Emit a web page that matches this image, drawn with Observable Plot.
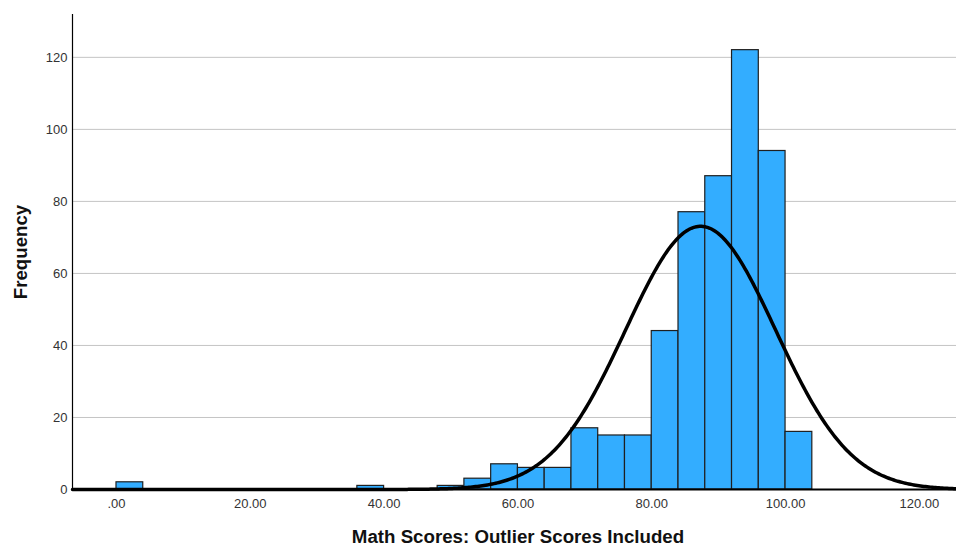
<!DOCTYPE html>
<html><head><meta charset="utf-8">
<script src="https://cdn.jsdelivr.net/npm/d3@7"></script>
<script src="https://cdn.jsdelivr.net/npm/@observablehq/plot@0.6"></script>
<style>
body{margin:0;background:#fff;}
#chart{width:956px;height:548px;}
</style>
</head><body><div id="chart"></div>
<script>
// Histogram bins (lower edge) and frequencies
const binStart = [0, 36, 48, 52, 56, 60, 64, 68, 72, 76, 80, 84, 88, 92, 96, 100];
const counts   = [2, 1, 1, 3, 7, 6, 6, 17, 15, 15, 44, 77, 87, 122, 94, 16];
const binWidth = 4;
// Fitted normal curve parameters
const curveMean = 87.3;
const curveSD = 11.2;
const xTicks = [0, 20, 40, 60, 80, 100, 120];
const yTicks = [0, 20, 40, 60, 80, 100, 120];
const xTitle = "Math Scores: Outlier Scores Included";
const yTitle = "Frequency";

const bins = binStart.map((s, i) => ({x1: s, x2: s + binWidth, y: counts[i]}));
const N = d3.sum(counts);
const xDomain = [-6.575, 125.55];
const curve = d3.range(xDomain[0], xDomain[1] + 0.01, 0.25).map(x => ({
  x, y: N * binWidth / (curveSD * Math.sqrt(2 * Math.PI)) * Math.exp(-0.5 * ((x - curveMean) / curveSD) ** 2)
}));

const fmtX = v => d3.format(".2f")(v).replace(/^0\./, ".");

const plot = Plot.plot({
  width: 956, height: 548,
  marginLeft: 72, marginRight: 0, marginTop: 14, marginBottom: 59,
  style: {fontFamily: "'Liberation Sans', Arial, sans-serif", fontSize: "13px", color: "#333", background: "#fff"},
  x: {domain: xDomain, ticks: xTicks, tickFormat: fmtX, tickSize: 0, tickPadding: 9, label: null},
  y: {domain: [0, 131.9], ticks: yTicks, tickSize: 0, tickPadding: 5, label: null, grid: false},
  marks: [
    Plot.ruleY(yTicks.filter(d => d > 0), {stroke: "#c4c4c4", strokeWidth: 1, strokeOpacity: 1}),
    Plot.rectY(bins, {x1: "x1", x2: "x2", y: "y", fill: "#33adff", stroke: "#1f1f1f", strokeWidth: 1.2, inset: 0}),
    Plot.ruleY([0], {stroke: "#000", strokeWidth: 2}),
    Plot.ruleX([xDomain[0]], {stroke: "#000", strokeWidth: 1.2}),
    Plot.line(curve, {x: "x", y: "y", stroke: "#000", strokeWidth: 3.5, curve: "linear"})
  ]
});

const svg = d3.select(plot);
svg.append("text").attr("x", 518).attr("y", 543).attr("text-anchor", "middle")
  .attr("font-family", "'Liberation Sans', Arial, sans-serif").attr("font-size", 18.7).attr("font-weight", "bold").attr("fill", "#111")
  .text(xTitle);
svg.append("text").attr("transform", "translate(27,252) rotate(-90)").attr("text-anchor", "middle")
  .attr("font-family", "'Liberation Sans', Arial, sans-serif").attr("font-size", 18.7).attr("font-weight", "bold").attr("fill", "#111")
  .text(yTitle);
document.getElementById("chart").appendChild(plot);
</script>
</body></html>
